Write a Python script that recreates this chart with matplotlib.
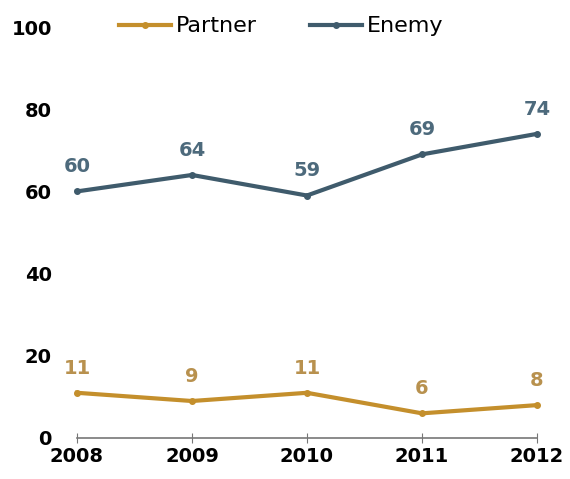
import matplotlib.pyplot as plt

years = [2008, 2009, 2010, 2011, 2012]
partner = [11, 9, 11, 6, 8]
enemy = [60, 64, 59, 69, 74]
y_ticks = [0, 20, 40, 60, 80, 100]

partner_color = '#c48f2c'
enemy_color = '#3f5b6c'
partner_text = '#b8914e'
enemy_text = '#4d6a7c'


def main():
    fig = plt.figure(figsize=(5.7, 4.79), dpi=100)
    ax = fig.add_axes([0.135, 0.0856, 0.807, 0.858])

    ax.plot(years, enemy, color=enemy_color, lw=3.0, marker='o', ms=4,
            label='Enemy', clip_on=False, solid_joinstyle='round')
    ax.plot(years, partner, color=partner_color, lw=3.0, marker='o', ms=4,
            label='Partner', clip_on=False, solid_joinstyle='round')

    # value labels above each point
    for x, v in zip(years, enemy):
        ax.annotate(str(v), (x, v), xytext=(0, 11), textcoords='offset points',
                    ha='center', va='bottom', fontsize=14, fontweight='bold',
                    color=enemy_text)
    for x, v in zip(years, partner):
        ax.annotate(str(v), (x, v), xytext=(0, 11), textcoords='offset points',
                    ha='center', va='bottom', fontsize=14, fontweight='bold',
                    color=partner_text)

    ax.set_xlim(2008, 2012)
    ax.set_ylim(0, 100)
    ax.set_xticks(years)
    ax.set_yticks(y_ticks)
    ax.tick_params(axis='x', direction='inout', length=7, color='#777777',
                   labelsize=14, pad=3)
    ax.tick_params(axis='y', length=0, labelsize=14, pad=18)
    for lab in ax.get_xticklabels() + ax.get_yticklabels():
        lab.set_fontweight('bold')
    for side in ['top', 'right', 'left']:
        ax.spines[side].set_visible(False)
    ax.spines['bottom'].set_color('#777777')
    ax.spines['bottom'].set_linewidth(1.2)

    handles, labels = ax.get_legend_handles_labels()
    fig.legend(handles[::-1], labels[::-1], loc='center', ncol=2,
               bbox_to_anchor=(0.494, 0.945), frameon=False, fontsize=16,
               handlelength=2.3, handletextpad=0.25, columnspacing=2.4)

    fig.savefig('out.png', dpi=100)


if __name__ == '__main__':
    main()
